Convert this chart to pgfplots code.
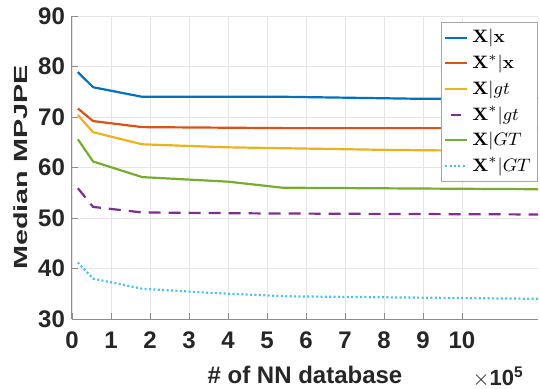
\documentclass[border=0pt]{standalone}
\usepackage[no-math]{fontspec}
\setmainfont{Liberation Sans}
\usepackage{pgfplots}
\pgfplotsset{compat=1.18}
\definecolor{mblue}{rgb}{0,0.447,0.741}
\definecolor{mred}{rgb}{0.85,0.325,0.098}
\definecolor{myellow}{rgb}{0.929,0.694,0.125}
\definecolor{mpurple}{rgb}{0.494,0.184,0.556}
\definecolor{mgreen}{rgb}{0.466,0.674,0.188}
\definecolor{mcyan}{rgb}{0.301,0.745,0.933}
\pgfplotsset{shortdash legend/.style={legend image code/.code={\draw[##1, solid] (3pt,0cm) -- (8pt,0cm);}}}
\begin{document}
\begin{tikzpicture}
\begin{axis}[
  at={(0pt,0pt)}, anchor=south west,
  scale only axis, width=233pt, height=151.5pt,
  xmin=0, xmax=11.95, ymin=30, ymax=90,
  xtick={0,1,...,10}, ytick={30,40,...,90},
  axis x line*=bottom, axis y line*=left,
  axis line style={draw=black!45, line width=0.5pt},
  tick style={draw=black!45},
  tick align=inside, major tick length=3pt,
  grid=major, major grid style={draw=black!10, line width=0.4pt},
  /pgf/number format/assume math mode=true,
  ticklabel style={font=\fontsize{12}{14}\selectfont\bfseries, text=black!85},
  xticklabel style={yshift=-3pt},
  xlabel={\# of NN database}, ylabel={\scalebox{1}[0.66]{Median MPJPE}},
  label style={font=\fontsize{12}{14}\selectfont\bfseries, text=black!85},
  xlabel style={at={(axis description cs:0.5,0)}, yshift=-20pt, anchor=north},
  ylabel style={font=\fontsize{14.4}{16}\selectfont\bfseries, at={(axis description cs:-0.1094,0.5)}, anchor=center},
  legend style={at={(1,0.98)}, anchor=north east, draw=black!35, fill=white,
     font=\fontsize{9.5}{10}\selectfont, row sep=0.4pt, inner xsep=1.5pt, inner ysep=1.5pt},
  legend cell align=left,
  legend image code/.code={\draw[#1] (0cm,0cm) -- (11pt,0cm);},
]
\addplot[mblue, line width=1.1pt] coordinates {(0.15,78.9) (0.54,75.9) (1.8,74.0) (5.5,74.0) (9.0,73.6) (11.95,73.7)};
\addlegendentry{$\mathbf{X}|\mathbf{x}$}
\addplot[mred, line width=1.1pt] coordinates {(0.15,71.7) (0.54,69.2) (1.8,68.0) (5.5,67.8) (11.95,67.8)};
\addlegendentry{$\mathbf{X}^{*}|\mathbf{x}$}
\addplot[myellow, line width=1.1pt] coordinates {(0.15,70.4) (0.54,67.0) (1.8,64.6) (4,64.0) (8,63.5) (11.95,63.2)};
\addlegendentry{$\mathbf{X}|gt$}
\addplot[mpurple, line width=1.1pt, dash pattern=on 6pt off 4pt, shortdash legend] coordinates {(0.15,55.9) (0.54,52.2) (1.8,51.1) (5,50.9) (11.95,50.7)};
\addlegendentry{$\mathbf{X}^{*}|gt$}
\addplot[mgreen, line width=1.1pt] coordinates {(0.15,65.6) (0.54,61.2) (1.8,58.1) (4,57.2) (5.4,56.0) (11.95,55.7)};
\addlegendentry{$\mathbf{X}|GT$}
\addplot[mcyan, line width=1.1pt, dash pattern=on 1pt off 1.2pt] coordinates {(0.15,41.2) (0.54,38.0) (1.8,36.0) (3.5,35.2) (5.5,34.5) (8,34.3) (11.95,34.0)};
\addlegendentry{$\mathbf{X}^{*}|GT$}
\end{axis}
\node[anchor=base east, font=\fontsize{11}{13}\selectfont\bfseries, text=black!85, inner sep=0pt] at (226pt,-33pt) {$\times$10\textsuperscript{5}};
\pgfresetboundingbox
\useasboundingbox (-36pt,-34.5pt) rectangle (234pt,159.5pt);
\end{tikzpicture}
\end{document}
